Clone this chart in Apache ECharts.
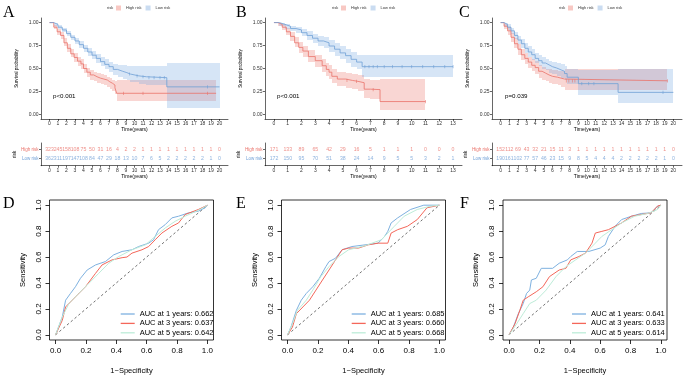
<!DOCTYPE html>
<html><head><meta charset="utf-8">
<script src="https://cdn.jsdelivr.net/npm/echarts@6/dist/echarts.min.js"></script>
<style>html,body{margin:0;padding:0;background:#fff}#c{width:685px;height:379px}</style>
</head><body><div id="c"></div>
<script>
// ---------------- DATA ----------------
const ticks20 = [0,1,2,3,4,5,6,7,8,9,10,11,12,13,14,15,16,17,18,19,20];
const ticks13 = [0,1,2,3,4,5,6,7,8,9,10,11,12,13];
const survTicks = [0, 0.25, 0.5, 0.75, 1];
const rocTicks = [0, 0.2, 0.4, 0.6, 0.8, 1];

// Panel A (KM)
const aHighT  = [0,0.5,0.9,1.3,1.7,2.1,2.5,2.9,3.3,3.7,4.0,4.4,4.8,5.2,5.6,6.0,6.4,6.8,7.1,7.4,7.7,7.9,19.6];
const aHighS  = [1,0.95,0.90,0.86,0.78,0.72,0.66,0.62,0.58,0.55,0.50,0.46,0.43,0.41,0.395,0.385,0.375,0.355,0.34,0.32,0.29,0.23,0.23];
const aHighLo = [1,0.93,0.87,0.82,0.74,0.68,0.62,0.57,0.53,0.50,0.45,0.41,0.38,0.36,0.345,0.33,0.32,0.30,0.28,0.26,0.22,0.15,0.15];
const aHighHi = [1,0.97,0.93,0.90,0.83,0.77,0.71,0.67,0.63,0.60,0.55,0.51,0.48,0.46,0.45,0.44,0.43,0.41,0.40,0.38,0.36,0.38,0.38];
const aLowT  = [0,0.5,1.0,1.5,2.0,2.5,3.0,3.5,4.0,4.5,5.0,5.5,6.0,6.5,7.0,7.5,8.0,8.6,9.1,9.5,10.5,11.4,13.8,20];
const aLowS  = [1,0.98,0.95,0.92,0.88,0.84,0.80,0.76,0.72,0.68,0.645,0.61,0.575,0.545,0.52,0.49,0.47,0.455,0.44,0.42,0.41,0.40,0.30,0.30];
const aLowLo = [1,0.965,0.93,0.895,0.85,0.81,0.765,0.72,0.68,0.635,0.60,0.56,0.525,0.49,0.465,0.43,0.41,0.39,0.37,0.35,0.335,0.32,0.07,0.07];
const aLowHi = [1,0.995,0.97,0.945,0.91,0.87,0.835,0.80,0.76,0.725,0.69,0.66,0.625,0.60,0.575,0.55,0.54,0.535,0.53,0.53,0.53,0.53,0.56,0.56];
const aHighCens = [8.7, 11.0, 18.6];
const aLowCens  = [9.4, 10.3, 11.0, 11.7, 12.3, 13.0, 13.5, 18.6];
const aRiskHigh = [323,245,158,108,75,50,31,16,4,2,2,1,1,1,1,1,1,1,1,1,0];
const aRiskLow  = [362,311,197,147,108,84,47,29,18,13,10,7,6,5,2,2,2,2,2,1,0];

// Panel B (KM)
const bHighT  = [0,0.3,0.6,0.9,1.2,1.5,1.8,2.1,2.5,3.0,3.5,3.8,4.0,4.2,4.6,5.2,5.7,6.1,6.55,7.0,7.7,11];
const bHighS  = [1,0.98,0.95,0.90,0.85,0.78,0.73,0.69,0.63,0.585,0.53,0.49,0.46,0.415,0.385,0.37,0.36,0.345,0.275,0.27,0.14,0.14];
const bHighLo = [1,0.96,0.92,0.86,0.80,0.73,0.67,0.63,0.57,0.52,0.46,0.42,0.39,0.34,0.31,0.29,0.28,0.26,0.18,0.17,0.05,0.05];
const bHighHi = [1,1.0,0.98,0.94,0.90,0.84,0.79,0.75,0.70,0.65,0.60,0.56,0.54,0.49,0.46,0.45,0.44,0.43,0.39,0.38,0.385,0.385];
const bLowT  = [0,0.4,0.8,1.2,1.6,2.0,2.4,2.8,3.2,3.6,4.0,4.4,4.8,5.2,5.6,6.0,6.4,13];
const bLowS  = [1,0.98,0.96,0.935,0.92,0.89,0.86,0.83,0.80,0.78,0.745,0.71,0.67,0.64,0.60,0.57,0.52,0.52];
const bLowLo = [1,0.965,0.935,0.905,0.885,0.85,0.815,0.78,0.745,0.72,0.68,0.64,0.60,0.565,0.52,0.49,0.41,0.41];
const bLowHi = [1,0.995,0.985,0.965,0.955,0.93,0.905,0.88,0.855,0.84,0.81,0.78,0.74,0.715,0.68,0.65,0.65,0.65];
const bHighCens = [5.3, 6.0, 7.2, 11.0];
const bLowCens  = [6.6, 6.9, 7.2, 7.5, 8.0, 8.6, 9.3, 10.0, 10.8, 11.6, 12.4, 13.0];
const bRiskHigh = [171,133,89,65,42,29,16,5,1,1,1,0,0,0];
const bRiskLow  = [172,150,95,70,51,38,24,14,9,5,5,3,2,1];

// Panel C (KM)
const cHighT  = [0,0.4,0.8,1.2,1.6,2.0,2.4,2.8,3.2,3.6,4.0,4.4,4.8,5.2,5.6,6.0,6.6,7.0,7.4,19.3];
const cHighS  = [1,0.96,0.91,0.84,0.77,0.71,0.65,0.61,0.57,0.535,0.51,0.47,0.45,0.43,0.415,0.405,0.395,0.385,0.366,0.366];
const cHighLo = [1,0.93,0.87,0.79,0.72,0.65,0.59,0.55,0.51,0.47,0.44,0.40,0.38,0.36,0.34,0.33,0.32,0.30,0.27,0.27];
const cHighHi = [1,0.99,0.95,0.89,0.83,0.77,0.71,0.67,0.63,0.60,0.58,0.54,0.52,0.50,0.49,0.48,0.475,0.47,0.50,0.50];
const cLowT  = [0,0.4,0.8,1.2,1.6,2.0,2.4,2.8,3.2,3.6,4.0,4.4,4.8,5.2,5.6,6.0,6.5,7.0,7.4,7.7,9.0,13.6,20];
const cLowS  = [1,0.98,0.95,0.91,0.86,0.81,0.77,0.72,0.68,0.65,0.61,0.585,0.56,0.54,0.52,0.505,0.485,0.47,0.445,0.405,0.335,0.24,0.24];
const cLowLo = [1,0.96,0.92,0.875,0.82,0.765,0.72,0.67,0.63,0.595,0.555,0.53,0.50,0.48,0.455,0.44,0.42,0.40,0.37,0.33,0.21,0.12,0.12];
const cLowHi = [1,1.0,0.98,0.945,0.90,0.855,0.82,0.775,0.74,0.71,0.67,0.645,0.62,0.60,0.585,0.57,0.555,0.545,0.525,0.49,0.48,0.50,0.50];
const cHighCens = [7.6, 7.9, 8.3, 8.6, 19.3];
const cLowCens  = [9.4, 10.2, 10.8, 18.8];
const cRiskHigh = [152,112,69,43,32,21,15,11,3,1,1,1,1,1,1,1,1,1,1,1,0];
const cRiskLow  = [190,161,102,77,57,46,23,15,9,8,5,4,4,4,2,2,2,2,2,1,0];

// ROC D
const rocD1 = [[0,0],[0.01,0.03],[0.044,0.137],[0.066,0.267],[0.098,0.319],[0.131,0.371],[0.164,0.436],[0.208,0.5],[0.263,0.539],[0.328,0.565],[0.383,0.617],[0.438,0.643],[0.503,0.656],[0.547,0.681],[0.613,0.707],[0.645,0.733],[0.678,0.811],[0.722,0.85],[0.766,0.902],[0.81,0.915],[0.876,0.941],[0.941,0.954],[0.985,0.98],[1,1]];
const rocD3 = [[0,0],[0.044,0.111],[0.066,0.215],[0.131,0.293],[0.197,0.371],[0.263,0.474],[0.306,0.539],[0.372,0.578],[0.438,0.595],[0.47,0.6],[0.503,0.63],[0.569,0.656],[0.613,0.681],[0.656,0.733],[0.7,0.785],[0.766,0.837],[0.81,0.863],[0.853,0.928],[0.941,0.967],[1,1]];
const rocD5 = [[0,0],[0.044,0.137],[0.088,0.241],[0.153,0.319],[0.219,0.397],[0.284,0.474],[0.35,0.552],[0.416,0.604],[0.503,0.656],[0.591,0.694],[0.656,0.759],[0.722,0.824],[0.788,0.876],[0.853,0.915],[0.941,0.961],[1,1]];
const aucD = ['AUC at 1 years: 0.662','AUC at 3 years: 0.637','AUC at 5 years: 0.642'];
// ROC E
const rocE1 = [[0,0],[0.022,0.059],[0.058,0.189],[0.09,0.267],[0.123,0.319],[0.166,0.371],[0.209,0.436],[0.252,0.526],[0.273,0.565],[0.316,0.591],[0.359,0.656],[0.424,0.681],[0.51,0.694],[0.596,0.707],[0.639,0.759],[0.66,0.798],[0.682,0.863],[0.725,0.902],[0.81,0.967],[0.897,1],[1,1]];
const rocE3 = [[0,0],[0.032,0.059],[0.058,0.163],[0.101,0.215],[0.144,0.267],[0.187,0.345],[0.23,0.423],[0.273,0.5],[0.316,0.578],[0.359,0.656],[0.402,0.669],[0.467,0.669],[0.531,0.694],[0.596,0.707],[0.66,0.707],[0.682,0.785],[0.725,0.811],[0.789,0.837],[0.854,0.889],[0.918,0.98],[1,1]];
const rocE5 = [[0,0],[0.032,0.085],[0.065,0.189],[0.123,0.267],[0.166,0.345],[0.219,0.449],[0.273,0.526],[0.338,0.604],[0.402,0.656],[0.51,0.687],[0.617,0.733],[0.66,0.785],[0.703,0.837],[0.768,0.915],[0.854,0.967],[0.94,0.992],[1,1]];
const aucE = ['AUC at 1 years: 0.685','AUC at 3 years: 0.660','AUC at 5 years: 0.668'];
// ROC F
const rocF1 = [[0,0],[0.028,0.059],[0.061,0.163],[0.093,0.241],[0.115,0.319],[0.136,0.345],[0.147,0.423],[0.179,0.436],[0.212,0.513],[0.287,0.513],[0.33,0.552],[0.384,0.578],[0.406,0.604],[0.449,0.643],[0.525,0.643],[0.6,0.669],[0.633,0.694],[0.654,0.759],[0.698,0.837],[0.741,0.889],[0.806,0.915],[0.87,0.936],[0.935,0.941],[0.978,0.993],[1,1]];
const rocF3 = [[0,0],[0.039,0.085],[0.071,0.189],[0.093,0.267],[0.126,0.293],[0.179,0.332],[0.223,0.371],[0.266,0.449],[0.33,0.5],[0.374,0.513],[0.406,0.578],[0.46,0.604],[0.503,0.63],[0.546,0.707],[0.568,0.785],[0.611,0.798],[0.654,0.811],[0.698,0.837],[0.741,0.863],[0.806,0.915],[0.87,0.928],[0.935,0.941],[0.978,0.993],[1,1]];
const rocF5 = [[0,0],[0.05,0.085],[0.093,0.163],[0.136,0.241],[0.179,0.267],[0.244,0.345],[0.309,0.449],[0.374,0.526],[0.438,0.578],[0.503,0.63],[0.568,0.707],[0.611,0.759],[0.676,0.811],[0.741,0.863],[0.827,0.915],[0.914,0.936],[0.978,0.967],[1,1]];
const aucF = ['AUC at 1 years: 0.641','AUC at 3 years: 0.633','AUC at 5 years: 0.614'];
const diag = [[0,0],[1,1]];

// ---------------- STYLE / BUILD ----------------
const FONT = 'Liberation Sans';
const RED = '#EA726A', BLUE = '#6F9FD6';
const RED_BAND = 'rgba(238,130,120,0.33)', BLUE_BAND = 'rgba(120,170,225,0.30)';
const ROC_BLUE = '#7EB1E0', ROC_RED = '#F4675A', ROC_GREEN = '#BDECD8';
const AX = {color:'#000', width:0.6};

const grids=[], xAxes=[], yAxes=[], series=[], legends=[], graphics=[];

function stepAt(t, s, x){ let v=s[0]; for(let i=0;i<t.length;i++){ if(t[i]<=x) v=s[i]; } return v; }
function lineData(t,s){ return t.map((x,i)=>[x,s[i]]); }
function bandData(t,lo,hi){ const o=[]; for(let i=0;i<t.length-1;i++) o.push([t[i],t[i+1],lo[i],hi[i]]); return o; }
function bandRender(color){
  return function(params, api){
    const a = api.coord([api.value(0), api.value(3)]);
    const b = api.coord([api.value(1), api.value(2)]);
    const x0=Math.round(a[0]), x1=Math.round(b[0]), y0=Math.round(a[1]), y1=Math.round(b[1]);
    return {type:'rect', shape:{x:x0,y:y0,width:x1-x0,height:y1-y0}, style:{fill:color}};
  };
}

function kmX(gi, p){
  return {type:'value', gridIndex:gi, min:p.xmin, max:p.xmax,
    axisLine:{show:true,onZero:false,lineStyle:AX},
    axisTick:{show:true,length:2,customValues:p.ticks,lineStyle:AX},
    axisLabel:{show:true,customValues:p.ticks,fontSize:5,margin:2.5,color:'#333',fontFamily:FONT},
    splitLine:{show:false},
    name:'Time(years)', nameLocation:'middle', nameGap:7, nameTextStyle:{fontSize:5,color:'#000',fontFamily:FONT}};
}

function kmPanel(p){
  const gMain = grids.length;
  grids.push({left:p.left, top:18, width:p.width, height:101});
  const gTab = grids.length;
  grids.push({left:p.left, top:143, width:p.width, height:22.7});
  const xMain = xAxes.length; xAxes.push(kmX(gMain,p));
  const xTab = xAxes.length; xAxes.push(kmX(gTab,p));
  const yMain = yAxes.length;
  yAxes.push({type:'value', gridIndex:gMain, min:-0.05, max:1.05,
    axisLine:{show:true,onZero:false,lineStyle:AX},
    axisTick:{show:true,length:2,customValues:survTicks,lineStyle:AX},
    axisLabel:{customValues:survTicks, formatter:v=>v.toFixed(2), fontSize:5, margin:2.5, color:'#333', fontFamily:FONT},
    splitLine:{show:false},
    name:'Survival probability', nameLocation:'middle', nameGap:22, nameTextStyle:{fontSize:4.6,color:'#000',fontFamily:FONT}});
  const yTab = yAxes.length;
  yAxes.push({type:'value', gridIndex:gTab, min:-0.8, max:1.7,
    axisLine:{show:true,onZero:false,lineStyle:AX},
    axisTick:{show:true,length:2,customValues:[0,1],lineStyle:AX},
    axisLabel:{customValues:[0,1], formatter:v=> v===1 ? '{h|High risk}' : '{l|Low risk}', margin:2.5,
      rich:{h:{color:RED,fontSize:4.5,fontFamily:FONT}, l:{color:BLUE,fontSize:4.5,fontFamily:FONT}}},
    splitLine:{show:false},
    name:'risk', nameLocation:'middle', nameGap:19, nameTextStyle:{fontSize:4.6,color:'#000',fontFamily:FONT}});

  const groups = [
    {name:'High risk', t:p.highT, s:p.highS, lo:p.highLo, hi:p.highHi, cens:p.highCens, col:RED, band:RED_BAND, risk:p.riskHigh, row:1},
    {name:'Low risk',  t:p.lowT,  s:p.lowS,  lo:p.lowLo,  hi:p.lowHi,  cens:p.lowCens,  col:BLUE, band:BLUE_BAND, risk:p.riskLow, row:0}
  ];
  groups.forEach(g=>{
    series.push({type:'custom', name:g.name+' CI', xAxisIndex:xMain, yAxisIndex:yMain, renderItem:bandRender(g.band),
      data:bandData(g.t,g.lo,g.hi), encode:{x:[0,1],y:[2,3]}, silent:true, z:1});
  });
  groups.forEach(g=>{
    series.push({type:'line', name:g.name, xAxisIndex:xMain, yAxisIndex:yMain, step:'end', showSymbol:false, symbol:'none',
      data:lineData(g.t,g.s), lineStyle:{color:g.col,width:0.8}, itemStyle:{color:g.col}, z:3, silent:true});
    series.push({type:'scatter', name:g.name+' censor', xAxisIndex:xMain, yAxisIndex:yMain, symbol:'rect', symbolSize:[0.7,3.2],
      data:g.cens.map(x=>[x, stepAt(g.t,g.s,x)]), itemStyle:{color:g.col}, z:4, silent:true});
    series.push({type:'scatter', name:g.name+' n', xAxisIndex:xTab, yAxisIndex:yTab, symbolSize:1,
      itemStyle:{color:'rgba(0,0,0,0)'}, silent:true,
      data:g.risk.map((n,i)=>[p.ticks[i], g.row, n]),
      label:{show:true, position:'inside', formatter:q=>String(q.value[2]), fontSize:5.2, color:g.col, fontFamily:FONT}});
  });

  legends.push({left:p.legLeft, top:5.5, orient:'horizontal', itemWidth:5, itemHeight:5, itemGap:4, padding:0, selectedMode:false,
    textStyle:{fontSize:4, color:'#333', fontFamily:FONT},
    data:[{name:'High risk', icon:'rect', itemStyle:{color:'#F8C8C3'}}, {name:'Low risk', icon:'rect', itemStyle:{color:'#CADCF1'}}]});
  graphics.push({type:'text', left:p.legLeft-9, top:5.8, style:{text:'risk', fontSize:4, fill:'#333', fontFamily:FONT}});
  graphics.push({type:'text', left:p.pLeft, top:93.5, style:{text:p.pText, fontSize:6.2, fill:'#000', fontFamily:FONT}});
  graphics.push({type:'text', left:p.letterLeft, top:5, style:{text:p.letter, fontSize:16, fill:'#000', fontFamily:'Liberation Serif'}});
}

function rocPanel(p){
  const gi = grids.length;
  grids.push({left:p.left, top:200, width:164, height:140, show:true, borderColor:'#000', borderWidth:0.8, backgroundColor:'rgba(0,0,0,0)'});
  const xi = xAxes.length;
  xAxes.push({type:'value', gridIndex:gi, min:-0.04, max:1.04,
    axisLine:{show:false,onZero:false}, axisTick:{show:true,length:4,customValues:rocTicks,lineStyle:{color:'#000',width:0.8}},
    axisLabel:{customValues:rocTicks, formatter:v=>v.toFixed(1), fontSize:8, margin:7, color:'#000', fontFamily:FONT},
    splitLine:{show:false},
    name:'1\u2212Specificity', nameLocation:'middle', nameGap:27, nameTextStyle:{fontSize:7.5,color:'#000',fontFamily:FONT}});
  const yi = yAxes.length;
  yAxes.push({type:'value', gridIndex:gi, min:-0.04, max:1.04,
    axisLine:{show:false,onZero:false}, axisTick:{show:true,length:4,customValues:rocTicks,lineStyle:{color:'#000',width:0.8}},
    axisLabel:{customValues:rocTicks, formatter:v=>v.toFixed(1), fontSize:8, margin:7, rotate:90, color:'#000', fontFamily:FONT},
    splitLine:{show:false},
    name:'Sensitivity', nameLocation:'middle', nameGap:23, nameTextStyle:{fontSize:7.5,color:'#000',fontFamily:FONT}});
  series.push({type:'line', name:'diag'+gi, xAxisIndex:xi, yAxisIndex:yi, data:diag, symbol:'none', silent:true,
    lineStyle:{color:'#333', width:0.7, type:[2.5,2.5]}, z:2});
  const cols=[ROC_BLUE, ROC_RED, ROC_GREEN];
  p.curves.forEach((c,k)=>{
    series.push({type:'line', name:p.names[k], xAxisIndex:xi, yAxisIndex:yi, data:c, symbol:'none', showSymbol:false, silent:true,
      lineStyle:{color:cols[k], width:1}, itemStyle:{color:cols[k]}, z:3+k});
  });
  legends.push({left:p.legLeft, top:310, orient:'vertical', itemWidth:14, itemHeight:1.3, itemGap:1.4, padding:0, selectedMode:false, icon:'rect',
    textStyle:{fontSize:7.5, lineHeight:7.5, color:'#000', fontFamily:FONT}, data:p.names});
  graphics.push({type:'text', left:p.letterLeft, top:196, style:{text:p.letter, fontSize:16, fill:'#000', fontFamily:'Liberation Serif'}});
}

kmPanel({letter:'A', letterLeft:3, left:41, width:187, xmin:-1, xmax:21, ticks:ticks20, legLeft:116, pLeft:53, pText:'p<0.001',
  highT:aHighT, highS:aHighS, highLo:aHighLo, highHi:aHighHi, highCens:aHighCens, riskHigh:aRiskHigh,
  lowT:aLowT, lowS:aLowS, lowLo:aLowLo, lowHi:aLowHi, lowCens:aLowCens, riskLow:aRiskLow});
kmPanel({letter:'B', letterLeft:236, left:265, width:197, xmin:-0.65, xmax:13.65, ticks:ticks13, legLeft:341, pLeft:277, pText:'p<0.001',
  highT:bHighT, highS:bHighS, highLo:bHighLo, highHi:bHighHi, highCens:bHighCens, riskHigh:bRiskHigh,
  lowT:bLowT, lowS:bLowS, lowLo:bLowLo, lowHi:bLowHi, lowCens:bLowCens, riskLow:bRiskLow});
kmPanel({letter:'C', letterLeft:459, left:492, width:190, xmin:-1, xmax:21, ticks:ticks20, legLeft:568, pLeft:505, pText:'p=0.039',
  highT:cHighT, highS:cHighS, highLo:cHighLo, highHi:cHighHi, highCens:cHighCens, riskHigh:cRiskHigh,
  lowT:cLowT, lowS:cLowS, lowLo:cLowLo, lowHi:cLowHi, lowCens:cLowCens, riskLow:cRiskLow});

rocPanel({letter:'D', letterLeft:3, left:49.5, legLeft:120.7, curves:[rocD1,rocD3,rocD5], names:aucD});
rocPanel({letter:'E', letterLeft:236, left:281.5, legLeft:351.7, curves:[rocE1,rocE3,rocE5], names:aucE});
rocPanel({letter:'F', letterLeft:460, left:503, legLeft:572, curves:[rocF1,rocF3,rocF5], names:aucF});

const chart = echarts.init(document.getElementById('c'), null, {renderer:'canvas', width:685, height:379});
chart.setOption({
  backgroundColor:'#fff',
  animation:false,
  textStyle:{fontFamily:FONT},
  grid:grids, xAxis:xAxes, yAxis:yAxes, series:series, legend:legends, graphic:graphics,
  tooltip:{show:false}
});
</script></body></html>
